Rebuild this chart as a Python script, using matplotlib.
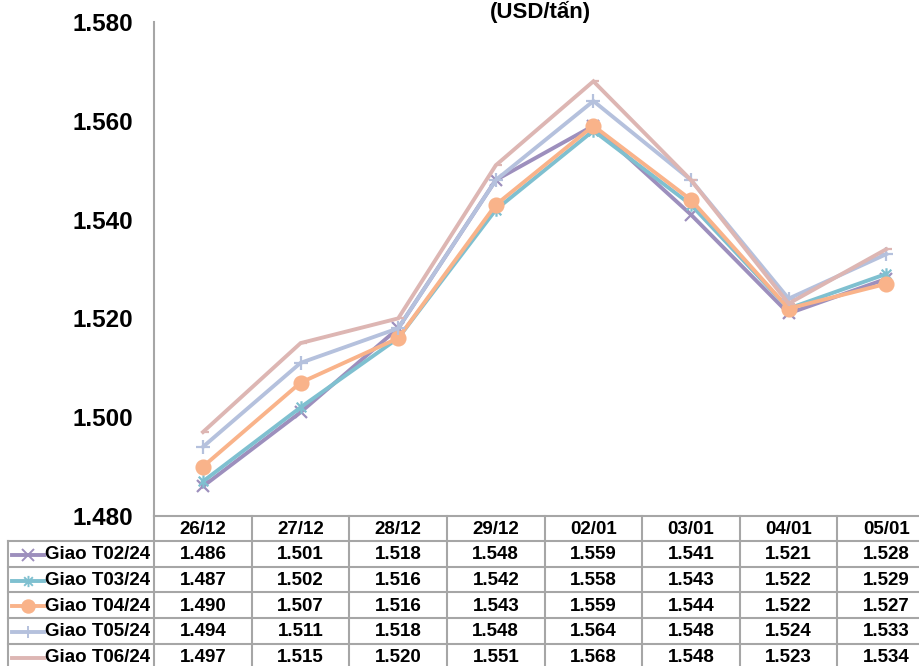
import matplotlib
matplotlib.use("Agg")
import matplotlib.pyplot as plt
from matplotlib.path import Path
from matplotlib.lines import Line2D

plt.rcParams['font.family'] = ['Liberation Sans', 'DejaVu Sans']

dates = ["26/12", "27/12", "28/12", "29/12", "02/01", "03/01", "04/01", "05/01"]
series_names = ["Giao T02/24", "Giao T03/24", "Giao T04/24", "Giao T05/24", "Giao T06/24"]
t02 = [1486, 1501, 1518, 1548, 1559, 1541, 1521, 1528]
t03 = [1487, 1502, 1516, 1542, 1558, 1543, 1522, 1529]
t04 = [1490, 1507, 1516, 1543, 1559, 1544, 1522, 1527]
t05 = [1494, 1511, 1518, 1548, 1564, 1548, 1524, 1533]
t06 = [1497, 1515, 1520, 1551, 1568, 1548, 1523, 1534]
y_ticks = [1480, 1500, 1520, 1540, 1560, 1580]

# Marker shapes: asterisk (x plus vertical bar) and a short dash right of the point
star = Path([(-1, -1), (1, 1), (-1, 1), (1, -1), (0, -1.3), (0, 1.3)],
            [Path.MOVETO, Path.LINETO, Path.MOVETO, Path.LINETO, Path.MOVETO, Path.LINETO])
dash = Path([(0, 0), (1.6, 0)], [Path.MOVETO, Path.LINETO])

colors = ["#9D8FBD", "#7FC0D0", "#F9B38A", "#B5C1DD", "#DDB6B3"]
markers = ["x", star, "o", "+", dash]
msizes = [9, 9, 10, 10, 8]
data = [t02, t03, t04, t05, t06]

W, H = 920, 666
fig = plt.figure(figsize=(W / 100, H / 100), dpi=100)

# Plot area geometry (pixels)
x_left, col_w = 154.2, 97.6
y_top, y_axis = 22, 516
ax = fig.add_axes([x_left / W, (H - y_axis) / H, 8 * col_w / W, (y_axis - y_top) / H])

xs = list(range(len(dates)))
for vals, c, m, ms in zip(data, colors, markers, msizes):
    ax.plot(xs, vals, color=c, lw=2.8, marker=m, markersize=ms,
            markeredgewidth=1.6, markerfacecolor=c, markeredgecolor=c,
            solid_joinstyle="miter")

ax.set_xlim(-0.5, len(dates) - 0.5)
ax.set_ylim(y_ticks[0], y_ticks[-1])
ax.set_yticks(y_ticks)
ax.set_yticklabels([f"{v:,}".replace(",", ".") for v in y_ticks],
                   fontsize=17.5, fontweight="bold")
ax.set_xticks([])
ax.tick_params(axis="y", length=0, pad=15)
for s in ["top", "right"]:
    ax.spines[s].set_visible(False)
for s in ["left", "bottom"]:
    ax.spines[s].set_color("#A6A6A6")
    ax.spines[s].set_linewidth(1.5)

fig.text(540 / W, 1 - 1 / H, "(USD/tấn)", ha="center", va="top",
         fontsize=16, fontweight="bold")

# Data table underneath the plot, drawn on a pixel-space overlay
tab = fig.add_axes([0, 0, 1, 1])
tab.set_xlim(0, W)
tab.set_ylim(H, 0)
tab.axis("off")
grid = dict(color="#A6A6A6", lw=1.5)
row_h = 25.7
hdr_bot = 541
leg_left = 8
n_rows = len(series_names)
fs = 13.5

tab.plot([x_left, x_left], [y_axis, H + 5], **grid)
for i in range(1, len(dates) + 1):
    x = x_left + i * col_w
    tab.plot([x, x], [y_axis, H + 5], **grid)
tab.plot([leg_left, leg_left], [hdr_bot, H + 5], **grid)
tab.plot([leg_left, x_left + 8 * col_w], [hdr_bot, hdr_bot], **grid)
for r in range(1, n_rows + 1):
    y = hdr_bot + r * row_h
    tab.plot([leg_left, x_left + 8 * col_w], [y, y], **grid)

for i, d in enumerate(dates):
    tab.text(x_left + (i + 0.5) * col_w, (y_axis + hdr_bot) / 2 + 1, d,
             ha="center", va="center", fontsize=fs, fontweight="bold")

for r, (name, vals, c, m, ms) in enumerate(zip(series_names, data, colors, markers, msizes)):
    yc = hdr_bot + (r + 0.5) * row_h + 1
    tab.add_line(Line2D([12, 44], [yc, yc], color=c, lw=2.8))
    tab.add_line(Line2D([28], [yc], color=c, marker=m, markersize=ms * 0.9,
                        markeredgewidth=1.4, markerfacecolor=c, markeredgecolor=c))
    tab.text(45, yc, name, ha="left", va="center", fontsize=fs, fontweight="bold")
    for i, v in enumerate(vals):
        tab.text(x_left + (i + 0.5) * col_w, yc, f"{v:,}".replace(",", "."),
                 ha="center", va="center", fontsize=fs, fontweight="bold")

fig.savefig("out.png", dpi=100)
